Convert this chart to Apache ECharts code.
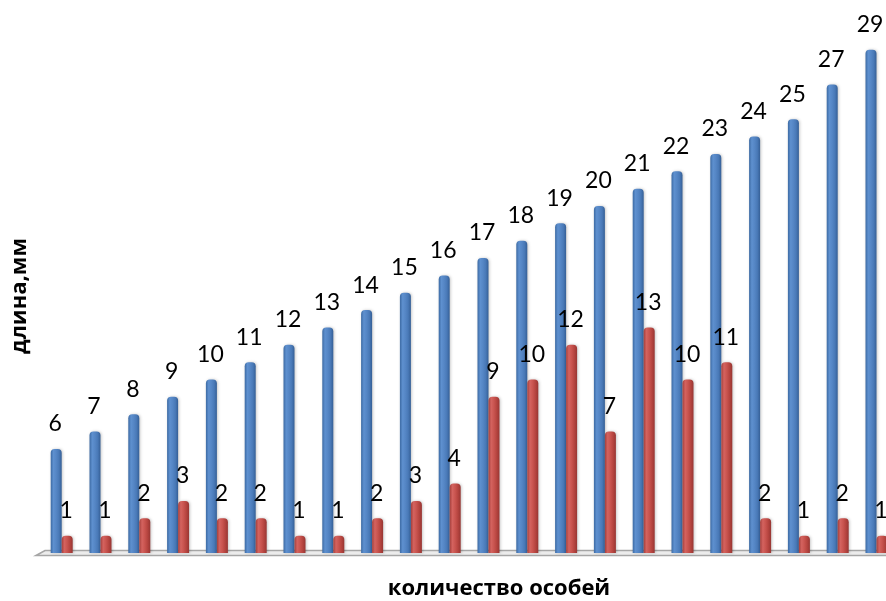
<!DOCTYPE html>
<html>
<head>
<meta charset="utf-8">
<script src="https://cdn.jsdelivr.net/npm/echarts@6/dist/echarts.min.js"></script>
<style>
  html, body { margin: 0; padding: 0; background: #ffffff; }
  #chart { width: 886px; height: 601px; }
</style>
</head>
<body>
<div id="chart"></div>
<script>
// Sample groups along the category axis
const categories = ['1','2','3','4','5','6','7','8','9','10','11','12','13','14','15','16','17','18','19','20','21','22'];
// Length, mm
const lengthValues = [6, 7, 8, 9, 10, 11, 12, 13, 14, 15, 16, 17, 18, 19, 20, 21, 22, 23, 24, 25, 27, 29];
// Number of individuals
const countValues = [1, 1, 2, 3, 2, 2, 1, 1, 2, 3, 4, 9, 10, 12, 7, 13, 10, 11, 2, 1, 2, 1];

const xTitle = 'количество особей';
const yTitle = 'длина,мм';

// Plot layout (pixels); the plot runs past the right edge of the canvas
const gridLeft = 42.3;
const gridWidth = 853.6;
const gridTop = 32.5;
const gridHeight = 520.5;
const floorY = gridTop + gridHeight;

// Cylinder-like shading across each bar
function shade(stops) {
  return new echarts.graphic.LinearGradient(0, 0, 1, 0,
    stops.map((c, i) => ({ offset: i / (stops.length - 1), color: c })));
}
const blueFill = shade(['#3c6aa3', '#5e90cf', '#5586c5', '#4979b7', '#355f96']);
const redFill = shade(['#a43f3c', '#d4635f', '#c9544f', '#b5443f', '#973633']);

const labelStyle = {
  show: true,
  position: 'top',
  distance: 13,
  offset: [-1, 0],
  color: '#000000',
  fontFamily: 'Lato, "Open Sans", sans-serif',
  fontSize: 23,
  lineHeight: 24
};

const titleFont = 'bold 22px "Open Sans", "Noto Sans", sans-serif';

const chart = echarts.init(document.getElementById('chart'), null, { renderer: 'canvas' });

chart.setOption({
  animation: false,
  backgroundColor: '#ffffff',
  grid: {
    left: gridLeft,
    width: gridWidth,
    top: gridTop,
    height: gridHeight,
    containLabel: false,
    outerBoundsMode: 'none'
  },
  xAxis: {
    type: 'category',
    data: categories,
    axisLine: { show: false },
    axisTick: { show: false },
    axisLabel: { show: false },
    splitLine: { show: false }
  },
  yAxis: {
    type: 'value',
    min: 0,
    max: 30,
    axisLine: { show: false },
    axisTick: { show: false },
    axisLabel: { show: false },
    splitLine: { show: false }
  },
  graphic: [
    {
      // floor platform under the bars
      type: 'polygon',
      z: -10,
      silent: true,
      shape: {
        points: [
          [gridLeft + 2.7, floorY - 2.5],
          [900, floorY - 2.5],
          [900, floorY + 2.5],
          [gridLeft - 6.3, floorY + 2.5]
        ]
      },
      style: { fill: '#ececec', stroke: '#a6a6a6', lineWidth: 1.6 }
    },
    {
      type: 'text',
      x: 499,
      y: 589,
      style: {
        text: xTitle,
        textAlign: 'center',
        textVerticalAlign: 'middle',
        font: titleFont,
        fill: '#000000'
      }
    },
    {
      type: 'text',
      x: 20,
      y: 296,
      rotation: Math.PI / 2,
      style: {
        text: yTitle,
        textAlign: 'center',
        textVerticalAlign: 'middle',
        font: titleFont,
        fill: '#000000'
      }
    }
  ],
  series: [
    {
      name: 'длина',
      type: 'bar',
      data: lengthValues,
      barWidth: 11,
      barGap: '0%',
      itemStyle: {
        color: blueFill,
        borderRadius: [4, 4, 0, 0],
        shadowColor: 'rgba(0,0,0,0.22)',
        shadowBlur: 3,
        shadowOffsetX: 1,
        shadowOffsetY: 0
      },
      label: labelStyle
    },
    {
      name: 'количество',
      type: 'bar',
      data: countValues,
      barWidth: 11,
      barGap: '0%',
      itemStyle: {
        color: redFill,
        borderRadius: [4, 4, 0, 0],
        shadowColor: 'rgba(0,0,0,0.22)',
        shadowBlur: 3,
        shadowOffsetX: 1,
        shadowOffsetY: 0
      },
      label: labelStyle
    }
  ]
});
</script>
</body>
</html>
